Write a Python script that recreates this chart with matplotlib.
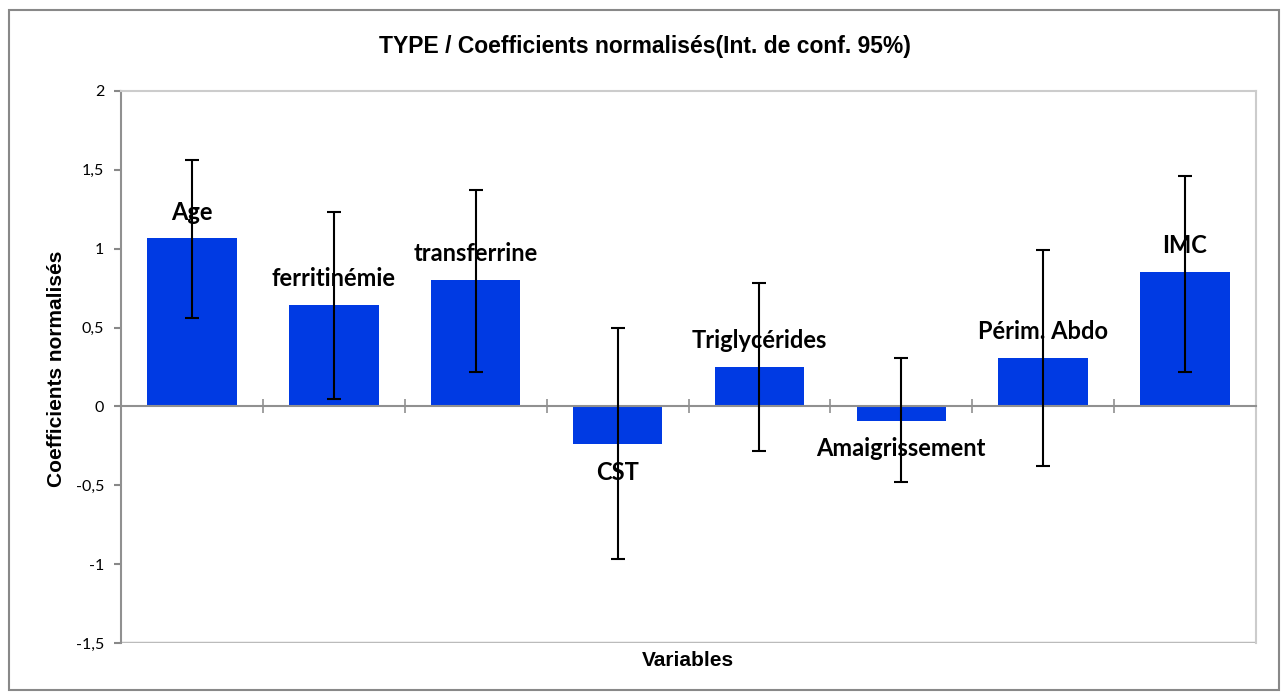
import matplotlib.pyplot as plt
from matplotlib.patches import Rectangle

# données
variables = ['Age', 'ferritinémie', 'transferrine', 'CST', 'Triglycérides',
             'Amaigrissement', 'Périm. Abdo', 'IMC']
coefs = [1.065, 0.645, 0.80, -0.24, 0.25, -0.09, 0.305, 0.85]
borne_inf = [0.56, 0.05, 0.22, -0.97, -0.28, -0.48, -0.38, 0.22]
borne_sup = [1.56, 1.23, 1.37, 0.50, 0.78, 0.31, 0.99, 1.46]
yticks = [-1.5, -1, -0.5, 0, 0.5, 1, 1.5, 2]
ytick_labels = ['-1,5', '-1', '-0,5', '0', '0,5', '1', '1,5', '2']

fig = plt.figure(figsize=(12.87, 6.99), dpi=100)
ax = fig.add_axes([121 / 1287, 1 - 643 / 699, (1256 - 121) / 1287, (643 - 91) / 699])

x = list(range(len(variables)))
err_bas = [c - b for c, b in zip(coefs, borne_inf)]
err_haut = [h - c for c, h in zip(coefs, borne_sup)]

ax.bar(x, coefs, width=0.63, color='#003AE3', zorder=2)
ax.errorbar(x, coefs, yerr=[err_bas, err_haut], fmt='none', ecolor='black',
            elinewidth=1.5, capsize=5, capthick=1.5, zorder=3)

# étiquettes des variables au-dessus / en dessous des barres
for xi, c, nom in zip(x, coefs, variables):
    if c >= 0:
        ax.annotate(nom, (xi, c), xytext=(0, 19), textcoords='offset points',
                    ha='center', va='center', fontsize=17, fontweight='bold',
                    family='Lato', zorder=4)
    else:
        ax.annotate(nom, (xi, c), xytext=(0, -20), textcoords='offset points',
                    ha='center', va='center', fontsize=17, fontweight='bold',
                    family='Lato', zorder=4)

ax.set_xlim(-0.5, len(variables) - 0.5)
ax.set_ylim(-1.5, 2)
ax.set_yticks(yticks)
ax.set_yticklabels(ytick_labels, fontsize=11.5, family='Lato')
ax.tick_params(axis='y', length=5, color='#888888', width=1.5, pad=7)

# axe x sur le zéro, graduations entre les catégories
ax.spines['bottom'].set_position(('data', 0))
ax.spines['bottom'].set_color('#909090')
ax.spines['bottom'].set_linewidth(1.5)
ax.set_xticks([i + 0.5 for i in range(len(variables) - 1)])
ax.set_xticklabels([])
ax.tick_params(axis='x', direction='inout', length=10, color='#909090', width=1.2)

ax.spines['left'].set_color('#909090')
ax.spines['left'].set_linewidth(1.5)
ax.spines['top'].set_color('#cccccc')
ax.spines['right'].set_color('#cccccc')
ax.spines['top'].set_linewidth(1.5)
ax.spines['right'].set_linewidth(1.5)
ax.axhline(-1.5, color='#bbbbbb', linewidth=2.5, zorder=1)

fig.text(57 / 1287, 1 - 369 / 699, 'Coefficients normalisés', rotation=90,
         ha='center', va='center', fontsize=15, fontweight='bold',
         family='Liberation Sans')
fig.text(688 / 1287, 1 - 661 / 699, 'Variables', ha='center', va='center',
         fontsize=15, fontweight='bold', family='Liberation Sans')
fig.text(645 / 1287, 1 - 47 / 699, 'TYPE / Coefficients normalisés(Int. de conf. 95%)',
         ha='center', va='center', fontsize=16.5, fontweight='bold', family='Liberation Sans')

# cadre extérieur
fig.patches.append(Rectangle((9 / 1287, 9 / 699), 1270 / 1287, 680 / 699,
                             transform=fig.transFigure, fill=False,
                             edgecolor='#888888', linewidth=1.5))

fig.savefig('out.png', dpi=100)
